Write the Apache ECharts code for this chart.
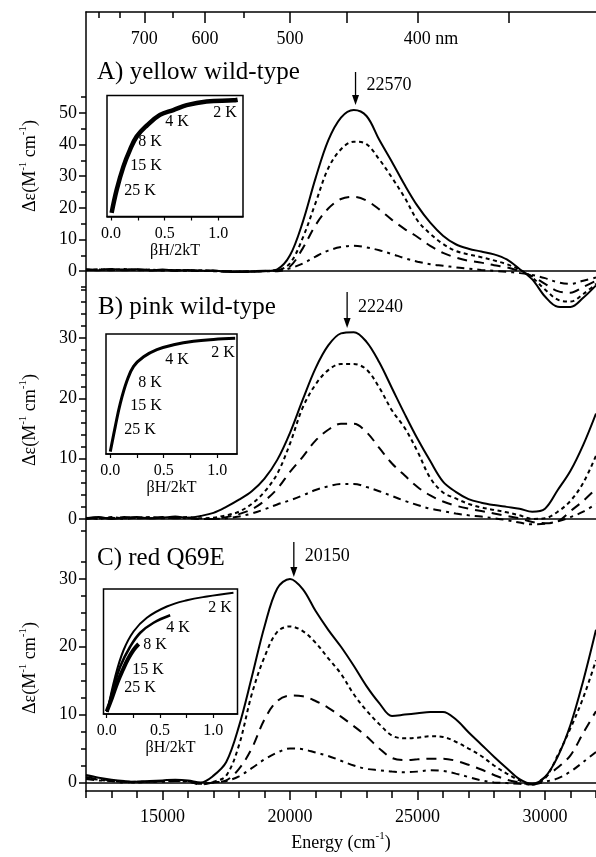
<!DOCTYPE html>
<html><head><meta charset="utf-8">
<script src="https://cdn.jsdelivr.net/npm/echarts@6/dist/echarts.min.js"></script>
<style>html,body{margin:0;padding:0;background:#fff}#main{width:596px;height:857px}</style>
</head><body><div id="main"></div>
<script>
// ---------- data ----------
const energy = [12000,12500,13000,13500,14000,14500,15000,15500,16000,16500,17000,17500,18000,18500,19000,19500,20000,20500,21000,21500,22000,22500,23000,23500,24000,24500,25000,25500,26000,26500,27000,27500,28000,28500,29000,29500,30000,30500,31000,31500,32000];

const A_2K  = [0.6,0.3,0.7,0.4,0.6,0.3,0.5,0.2,0.4,0.1,0.2,-0.2,-0.3,-0.2,0.0, 0.6,5.0,15.5,29.3,41.3,48.5,50.9,49.0,41.5,34.5,27.2,20.6,15.3,11.2,8.5,7.1,6.2,5.3,3.7,0.7,-2.6,-8.0,-11.2,-11.3,-8.4,-4.5];
const A_4K  = [0.3,0.6,0.4,0.7,0.3,0.5,0.2,0.4,0.1,0.3,0.0,-0.1,-0.2,-0.1,0.1, 0.3,2.5,10.5,21.5,32.5,38.5,40.9,40.1,35.3,29.5,23.2,16,11.8,8.6,6.4,5.3,4.4,3.4,2.2,0.5,-2,-5.8,-9,-9.6,-7.2,-4];
const A_8K  = [0.5,0.4,0.6,0.3,0.5,0.4,0.3,0.3,0.2,0.2,0.1,0.0,-0.1,0.0,0.1, 0.3,1.5,7.2,14.5,19.8,22.8,23.5,22.3,19.5,16.2,13.3,10.8,8,5.8,4.3,3.3,2.7,1.9,1.2,0,-1.6,-4,-6.3,-6.8,-5,-3];
const A_25K = [0.4,0.5,0.3,0.5,0.4,0.2,0.4,0.1,0.3,0.0,0.1,-0.1,-0.2,-0.1,0.0, 0,0.9,2.4,4.6,6.5,7.6,8,7.5,6.6,5.4,4.1,3,2.2,1.7,1.2,0.8,0.4,0.1,-0.2,-0.6,-1.2,-2.2,-3.5,-4,-3,-2];

const B_2K  = [0.1,0.3,0.0,0.2,0.3,0.1,0.2,0.4,0.2,0.5, 1.0,2.0,3.2,4.6,6.7,9.8,14.3,19.8,25,28.8,30.8,31,29.4,26,21.7,17.4,13.3,9.6,6.2,4.5,3.3,2.7,2.3,2.0,1.7,1.2,1.7,4.8,8,12.3,17.5];
const B_4K  = [0.2,0.0,0.3,0.1,0.2,0.3,0.1,0.2,0.3,0.1, 0.2,0.6,1.2,2.5,4.5,7.5,12.5,18.5,22.3,24.7,25.7,25.7,24.8,21.8,18,15.1,11.2,6.8,4.4,3.4,2.5,1.9,1.5,1.1,0.6,0,0.1,1.2,3,6,10.5];
const B_8K  = [0.0,0.2,0.1,0.3,0.1,0.2,0.3,0.1,0.2,0.0, 0,0.3,0.8,1.6,3,5,7.8,10.3,13,14.8,15.8,15.8,14.4,11.8,9.2,7.2,5.3,3.9,2.9,2.2,1.7,1.3,0.9,0.5,0.1,-0.5,-0.7,-0.4,1.3,3,5];
const B_25K = [0.1,0.1,0.2,0.0,0.2,0.1,0.2,0.2,0.1,0.0, 0,0.1,0.4,0.9,1.6,2.4,3.1,3.9,4.8,5.4,5.8,5.8,5.3,4.6,3.8,3,2.3,1.7,1.3,0.9,0.6,0.4,0.1,-0.2,-0.6,-0.9,-0.8,-0.4,0.3,1.2,2.5];

const C_2K  = [1.1,0.7,0.4,0.2,0.1,0.2,0.3,0.4,0.3,0.0, 1.0,3.0,8.3,15.5,23,28.6,30,28.5,25.3,22.5,20,17.2,14.2,11.7,9.8,10,10.2,10.4,10.4,9.3,7.4,5.6,3.8,2.1,0.5,-0.2,0.8,3.8,8.5,15,22.5];
const C_4K  = [0.6,0.4,0.2,0.1,0.0,0.1,0.2,0.2,0.2,-0.2, 0.1,1,5.5,13,18.5,22.2,23,22.3,20.6,18.3,16,13,10.6,8.6,6.9,6.5,6.6,6.8,6.7,6,5,3.9,2.5,1.3,0.3,-0.3,0.6,4,8,12.5,18];
const C_8K  = [0.8,0.5,0.3,0.1,0.1,0.1,0.2,0.3,0.2,-0.3, 0,0.3,2,5,9.3,12,12.8,12.7,12,11,9.7,8.3,6.8,5,3.6,3.3,3.4,3.5,3.5,3.2,2.6,1.9,1.1,0.4,0,-0.3,0.8,2.2,4,7.3,10.5];
const C_25K = [0.5,0.3,0.2,0.0,0.1,0.1,0.1,0.2,0.1,-0.2, 0,0.2,0.9,2.1,3.4,4.4,5,4.9,4.4,3.9,3.2,2.5,2,1.8,1.6,1.5,1.6,1.8,1.7,1.3,0.8,0.3,0,-0.1,-0.2,-0.3,0.1,0.6,1.6,3,4.5];

const peaks = [22570, 22240, 20150];
const panelTitles = ['A) yellow wild-type', 'B) pink wild-type', 'C) red Q69E'];
const tempLabels = ['2 K', '4 K', '8 K', '15 K', '25 K'];

// inset (magnetization) curves, x = betaH/2kT, y = normalized
const insA_x = [0.006,0.053,0.115,0.177,0.239,0.332,0.456,0.581,0.705,0.891,1.14,1.18];
const insA_y = [0.03,0.22,0.41,0.55,0.66,0.75,0.84,0.88,0.92,0.95,0.96,0.965];
const insB_x = [0,0.047,0.093,0.156,0.218,0.312,0.436,0.592,0.779,0.966,1.168];
const insB_y = [0.02,0.23,0.42,0.61,0.73,0.81,0.87,0.91,0.94,0.955,0.964];
const insC2_x = [0.005,0.08,0.158,0.252,0.377,0.565,0.753,0.941,1.19];
const insC2_y = [0.016,0.30,0.51,0.66,0.77,0.86,0.91,0.94,0.97];
const insC4_x = [0.005,0.06,0.127,0.221,0.315,0.44,0.596];
const insC4_y = [0.016,0.2,0.38,0.54,0.65,0.73,0.79];
const insCb_x = [0,0.05,0.1,0.15,0.2,0.25,0.3];
const insCb_y = [0.02,0.13,0.25,0.35,0.44,0.51,0.56];

// ticks
const eMajor = [15000,20000,25000,30000];
const eMinor = [12000,13000,14000,15000,16000,17000,18000,19000,20000,21000,22000,23000,24000,25000,26000,27000,28000,29000,30000,31000,32000];
const nmMajor = [700,600,500,450,400,350];
const nmMinor = [800,750,650,550];
const nmLabels = [700,600,500,400];
const yMajA = [0,10,20,30,40,50], yMinA = [-5,5,15,25,35,45,55];
const yMajB = [0,10,20,30], yMinB = [-2,2,4,6,8,12,14,16,18,22,24,26,28,32,34,36,38];
const yMajC = [0,10,20,30], yMinC = [2.5,5,7.5,12.5,15,17.5,22.5,25,27.5,32.5];
const insTicks = [0,0.25,0.5,0.75,1.0], insLabels = [0,0.5,1.0];

// ---------- chart ----------
const FF = 'Liberation Serif';
const BK = '#000';
const pair = (xs, ys) => xs.map((x, i) => [x, ys[i]]);
const toE = nm => 1e7 / nm;

const grids = [
  {left: 86, top: 12, width: 512, height: 784},           // frame
  {left: 86, top: 97, width: 512, height: 190},           // A
  {left: 86, top: 290, width: 512, height: 247},          // B
  {left: 86, top: 545, width: 512, height: 251},          // C
  {left: 107, top: 95.5, width: 136, height: 121, show: true, borderColor: BK, borderWidth: 1.5},
  {left: 106, top: 334, width: 131, height: 120, show: true, borderColor: BK, borderWidth: 1.5},
  {left: 103.5, top: 589, width: 134, height: 125, show: true, borderColor: BK, borderWidth: 1.5}
];
const panelRange = [[-5, 55], [-3, 38], [-2, 35]];
const insetRange = [[-0.037, 1.23], [-0.04, 1.185], [-0.03, 1.228]];
const yMaj = [yMajA, yMajB, yMajC], yMin = [yMinA, yMinB, yMinC];

const lblStyle = {color: BK, fontFamily: FF, fontSize: 18};
const noLine = {show: false, onZero: false};

const xAxes = [
  {gridIndex: 0, type: 'value', position: 'bottom', min: 12000, max: 32000,
   axisLine: {show: true, onZero: false, lineStyle: {color: BK, width: 1.5}},
   axisTick: {show: true, customValues: eMajor, length: 9, lineStyle: {color: BK, width: 1.5}},
   axisLabel: Object.assign({customValues: eMajor, margin: 17, formatter: v => String(v)}, lblStyle),
   splitLine: {show: false},
   name: '{n|Energy (cm}{s|-1}{n|)}', nameLocation: 'middle', nameGap: 40,
   nameTextStyle: {rich: {n: {fontFamily: FF, fontSize: 18, color: BK, lineHeight: 24}, s: {fontFamily: FF, fontSize: 11, color: BK, lineHeight: 10, verticalAlign: 'top'}}}},
  {gridIndex: 0, type: 'value', position: 'bottom', min: 12000, max: 32000,
   axisLine: noLine, axisTick: {show: true, customValues: eMinor, length: 7, lineStyle: {color: BK, width: 1.5}},
   axisLabel: {show: false}, splitLine: {show: false}},
  {gridIndex: 0, type: 'value', position: 'top', min: 12000, max: 32000,
   axisLine: {show: true, onZero: false, lineStyle: {color: BK, width: 1.5}},
   axisTick: {show: true, inside: true, customValues: nmMajor.map(toE), length: 11, lineStyle: {color: BK, width: 1.5}},
   axisLabel: Object.assign({inside: true, margin: 18, customValues: nmLabels.map(toE),
     formatter: v => { const nm = Math.round(1e7 / v); return nm === 400 ? '{pad|}400 nm' : String(nm); },
     rich: {pad: {width: 27}}}, lblStyle),
   splitLine: {show: false}},
  {gridIndex: 0, type: 'value', position: 'top', min: 12000, max: 32000,
   axisLine: noLine, axisTick: {show: true, inside: true, customValues: nmMinor.map(toE), length: 6, lineStyle: {color: BK, width: 1.5}},
   axisLabel: {show: false}, splitLine: {show: false}}
];
for (let p = 0; p < 3; p++) {
  xAxes.push({gridIndex: 1 + p, type: 'value', min: 12000, max: 32000, show: false, axisLine: noLine, splitLine: {show: false}});
}
for (let p = 0; p < 3; p++) {
  xAxes.push({gridIndex: 4 + p, type: 'value', position: 'bottom', min: insetRange[p][0], max: insetRange[p][1],
    axisLine: {show: true, onZero: false, lineStyle: {color: BK, width: 1.5}},
    axisTick: {show: true, customValues: insTicks, length: 4, lineStyle: {color: BK, width: 1.2}},
    axisLabel: {customValues: insLabels, margin: 9, color: BK, fontFamily: FF, fontSize: 16, formatter: v => v.toFixed(1)},
    splitLine: {show: false},
    name: 'βH/2kT', nameLocation: 'middle', nameGap: 23, nameTextStyle: {color: BK, fontFamily: FF, fontSize: 16}});
}

const yAxes = [
  {gridIndex: 0, type: 'value', position: 'left', min: 0, max: 1,
   axisLine: {show: true, onZero: false, lineStyle: {color: BK, width: 1.5}},
   axisTick: {show: false}, axisLabel: {show: false}, splitLine: {show: false}}
];
for (let p = 0; p < 3; p++) {
  yAxes.push({gridIndex: 1 + p, type: 'value', position: 'left', min: panelRange[p][0], max: panelRange[p][1],
    axisLine: noLine,
    axisTick: {show: true, customValues: yMaj[p], length: 7, lineStyle: {color: BK, width: 1.5}},
    axisLabel: Object.assign({customValues: yMaj[p], margin: 9}, lblStyle),
    splitLine: {show: false}});
  yAxes.push({gridIndex: 1 + p, type: 'value', position: 'left', min: panelRange[p][0], max: panelRange[p][1],
    axisLine: noLine,
    axisTick: {show: true, customValues: yMin[p], length: 5, lineStyle: {color: BK, width: 1.5}},
    axisLabel: {show: false}, splitLine: {show: false}});
}
for (let p = 0; p < 3; p++) {
  yAxes.push({gridIndex: 4 + p, type: 'value', min: 0, max: 1, show: false, axisLine: noLine, splitLine: {show: false}});
}

const dashTypes = ['solid', [4, 3.5], [10, 7], [8, 5, 3, 5]];
const panelData = [[A_2K, A_4K, A_8K, A_25K], [B_2K, B_4K, B_8K, B_25K], [C_2K, C_4K, C_8K, C_25K]];
const series = [];
panelData.forEach((sets, p) => {
  sets.forEach((vals, k) => {
    const s = {type: 'line', xAxisIndex: 4 + p, yAxisIndex: 1 + 2 * p, data: pair(energy, vals),
      smooth: 0.35, showSymbol: false, symbol: 'none', clip: false, silent: true,
      lineStyle: {color: BK, width: 2, type: dashTypes[k]}, z: 3};
    if (k === 0) {
      s.markLine = {silent: true, symbol: ['none', 'none'], label: {show: false},
        lineStyle: {color: BK, width: 1.5, type: 'solid'}, data: [{yAxis: 0}]};
    }
    series.push(s);
  });
});
const insetLine = (p, xs, ys, w) => ({type: 'line', xAxisIndex: 7 + p, yAxisIndex: 7 + p, data: pair(xs, ys),
  smooth: 0.4, showSymbol: false, symbol: 'none', silent: true, lineStyle: {color: BK, width: w}, z: 4});
series.push(insetLine(0, insA_x, insA_y, 4.5));
series.push(insetLine(1, insB_x, insB_y, 3));
series.push(insetLine(2, insC2_x, insC2_y, 2));
series.push(insetLine(2, insC4_x, insC4_y, 2.5));
series.push(insetLine(2, insCb_x, insCb_y, 4));

const chart = echarts.init(document.getElementById('main'), null, {renderer: 'canvas'});
chart.setOption({
  animation: false, backgroundColor: '#fff',
  textStyle: {fontFamily: FF, color: BK},
  grid: grids, xAxis: xAxes, yAxis: yAxes, series: series
});

// ---------- annotations ----------
const g = [];
const titlePos = [[97, 72], [98, 307], [97, 558]];
panelTitles.forEach((t, p) => g.push({type: 'text', x: titlePos[p][0], y: titlePos[p][1], z: 10,
  style: {text: t, fontFamily: FF, fontSize: 25, fill: BK, align: 'left', verticalAlign: 'middle'}}));

const yTitleY = [166, 420, 668];
yTitleY.forEach(y => g.push({type: 'text', x: 30, y: y, rotation: Math.PI / 2, z: 10,
  style: {text: '{n|Δε(M}{s|-1}{n| cm}{s|-1}{n|)}', align: 'center', verticalAlign: 'middle',
    rich: {n: {fontFamily: FF, fontSize: 18, fill: BK, lineHeight: 24}, s: {fontFamily: FF, fontSize: 11, fill: BK, lineHeight: 10, verticalAlign: 'top'}}}}));

const kPos = [
  [[225, 113], [177, 122], [150, 142], [146, 166], [140, 191]],
  [[223, 353], [177, 360], [150, 383], [146, 406], [140, 430]],
  [[220, 608], [178, 628], [155, 645], [148, 670], [140, 688]]
];
kPos.forEach(list => list.forEach((pt, i) => g.push({type: 'text', x: pt[0], y: pt[1], z: 10,
  style: {text: tempLabels[i], fontFamily: FF, fontSize: 16, fill: BK, align: 'center', verticalAlign: 'middle'}})));

const arrowY = [[72, 105], [292, 328], [542, 577]];
const peakTextY = [85, 307, 556];
peaks.forEach((pk, p) => {
  const px = chart.convertToPixel({xAxisIndex: 4 + p}, pk);
  const y1 = arrowY[p][0], y2 = arrowY[p][1];
  g.push({type: 'line', z: 10, shape: {x1: px, y1: y1, x2: px, y2: y2 - 8}, style: {stroke: BK, lineWidth: 1.3}});
  g.push({type: 'polygon', z: 10, shape: {points: [[px - 3.5, y2 - 10], [px + 3.5, y2 - 10], [px, y2]]}, style: {fill: BK}});
  g.push({type: 'text', x: px + 11, y: peakTextY[p], z: 10,
    style: {text: String(pk), fontFamily: FF, fontSize: 18, fill: BK, align: 'left', verticalAlign: 'middle'}});
});
chart.setOption({graphic: g});
</script>
</body></html>
